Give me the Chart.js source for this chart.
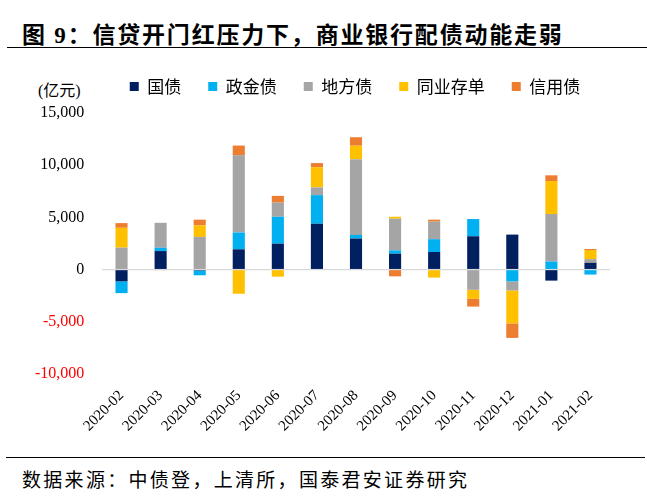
<!DOCTYPE html>
<html>
<head>
<meta charset="utf-8">
<script src="https://cdn.jsdelivr.net/npm/chart.js@4.4.1/dist/chart.umd.min.js"></script>
<style>
    body { margin: 0; width: 647px; height: 500px; background: #fff; position: relative; overflow: hidden; }
    .title {
        position: absolute; left: 22px; top: 16px;
        font: bold 23px 'Liberation Serif', 'Noto Sans CJK SC', serif;
        letter-spacing: 1.8px; color: #000; white-space: nowrap;
    }
    .rule { position: absolute; left: 7px; right: 0; height: 0; border-top: 1.5px solid #000; }
    .unit {
        position: absolute; left: 38px; top: 77px;
        font: 16px 'Liberation Serif', 'Noto Sans CJK SC', serif; color: #000;
    }
    .source {
        position: absolute; left: 22px; top: 465px;
        font: 19px 'Liberation Serif', 'Noto Sans CJK SC', serif;
        letter-spacing: 2.3px; color: #000; white-space: nowrap;
    }
    #wrap { position: absolute; left: 0; top: 40px; width: 647px; height: 400px; }
</style>
</head>
<body>
<div class="title">图 9：信贷开门红压力下，商业银行配债动能走弱</div>
<div class="rule" style="top: 47px;"></div>
<div class="unit">(亿元)</div>
<div id="wrap"><canvas id="chart"></canvas></div>
<div class="rule" style="top: 457px; left: 6px; right: 2px;"></div>
<div class="source">数据来源：中债登，上清所，国泰君安证券研究</div>

<script>
const months = ['2020-02', '2020-03', '2020-04', '2020-05', '2020-06', '2020-07', '2020-08',
                '2020-09', '2020-10', '2020-11', '2020-12', '2021-01', '2021-02'];

// 亿元
const guozhai   = [-1130, 1770, -100, 1940, 2480, 4390, 2970, 1520, 1680, 3190, 3350, -1060, 650];
const zhengjin  = [-1130, 320, -450, 1610, 2580, 2740, 350, 320, 1230, 1650, -1130, 770, -480];
const difang    = [2100, 2390, 3130, 7390, 1350, 740, 7260, 3030, 1680, -1940, -870, 4550, 350];
const tongye    = [1900, 0, 1100, -2320, -680, 1940, 1290, 190, -770, -870, -3160, 3160, 870];
const xinyong   = [450, -50, 550, 940, 650, 390, 810, -650, 190, -740, -1390, 550, 100];

const yTicks = [-10000, -5000, 0, 5000, 10000, 15000];

const seriesNames = ['国债', '政金债', '地方债', '同业存单', '信用债'];
const seriesData = [guozhai, zhengjin, difang, tongye, xinyong];
const seriesColors = ['#002060', '#00b0f0', '#a5a5a5', '#ffc000', '#ed7d31'];

new Chart(document.getElementById('chart'), {
    type: 'bar',
    data: {
        labels: months,
        datasets: seriesNames.map((name, i) => ({
            label: name,
            data: seriesData[i],
            backgroundColor: seriesColors[i],
            borderWidth: 0,
            barPercentage: 0.31,
            categoryPercentage: 1
        }))
    },
    options: {
        responsive: true,
        maintainAspectRatio: false,
        animation: false,
        // big left padding pushes the legend right; the y axis is squeezed and its
        // labels are mirrored back out to the left (mirror = no clipping)
        layout: { padding: { left: 100, right: 37, top: 11, bottom: 0 } },
        scales: {
            x: {
                stacked: true,
                grid: { display: false },
                border: { display: false },
                ticks: {
                    color: '#000',
                    font: { family: "'Liberation Serif', serif", size: 15 },
                    minRotation: 45,
                    maxRotation: 45,
                    padding: 5
                }
            },
            gap: {
                type: 'category',
                position: 'top',
                grid: { display: false },
                border: { display: false },
                ticks: { display: false },
                afterFit: s => { s.height = 8; }
            },
            y: {
                stacked: true,
                min: yTicks[0],
                max: yTicks[yTicks.length - 1],
                afterBuildTicks: s => { s.ticks = yTicks.map(v => ({ value: v })); },
                afterFit: s => { s.width = 2; },
                grid: {
                    drawTicks: false,
                    color: ctx => ctx.tick && ctx.tick.value === 0 ? '#d9d9d9' : 'rgba(0,0,0,0)',
                    lineWidth: 1.2
                },
                border: { display: false },
                ticks: {
                    mirror: true,
                    crossAlign: 'far',
                    padding: -67,
                    font: { family: "'Liberation Serif', serif", size: 16 },
                    color: ctx => ctx.tick.value < 0 ? '#ff0000' : '#000',
                    callback: v => v.toLocaleString('en-US')
                }
            }
        },
        plugins: {
            legend: {
                position: 'top',
                labels: {
                    boxWidth: 9,
                    boxHeight: 9,
                    padding: 27,
                    color: '#000',
                    font: { family: "'Noto Sans CJK SC', sans-serif", size: 17 }
                }
            },
            tooltip: { enabled: false }
        }
    }
});
</script>
</body>
</html>
